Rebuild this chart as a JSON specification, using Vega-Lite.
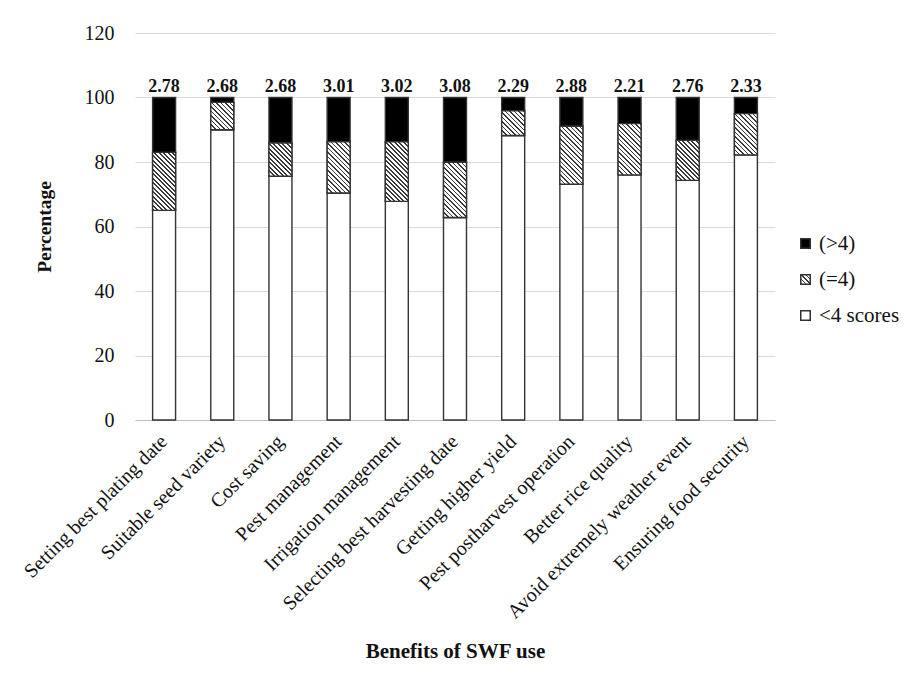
{
  "$schema": "https://vega.github.io/schema/vega-lite/v6.json",
  "autosize": {"type": "none"},
  "padding": {"left": 135, "top": 33, "right": 130, "bottom": 255},
  "width": 640,
  "height": 387,
  "background": "#ffffff",
  "config": {
    "view": {"stroke": null},
    "font": "Liberation Serif",
    "text": {"font": "Liberation Serif"}
  },
  "params": [
    {
      "name": "hatch",
      "value": [
        {"offset": 0, "color": "#3a3a3a"}, {"offset": 0.018, "color": "#3a3a3a"}, {"offset": 0.018, "color": "#ffffff"}, {"offset": 0.045, "color": "#ffffff"},
        {"offset": 0.045, "color": "#3a3a3a"}, {"offset": 0.063, "color": "#3a3a3a"}, {"offset": 0.063, "color": "#ffffff"}, {"offset": 0.09, "color": "#ffffff"},
        {"offset": 0.09, "color": "#3a3a3a"}, {"offset": 0.108, "color": "#3a3a3a"}, {"offset": 0.108, "color": "#ffffff"}, {"offset": 0.135, "color": "#ffffff"},
        {"offset": 0.135, "color": "#3a3a3a"}, {"offset": 0.153, "color": "#3a3a3a"}, {"offset": 0.153, "color": "#ffffff"}, {"offset": 0.18, "color": "#ffffff"},
        {"offset": 0.18, "color": "#3a3a3a"}, {"offset": 0.198, "color": "#3a3a3a"}, {"offset": 0.198, "color": "#ffffff"}, {"offset": 0.225, "color": "#ffffff"},
        {"offset": 0.225, "color": "#3a3a3a"}, {"offset": 0.243, "color": "#3a3a3a"}, {"offset": 0.243, "color": "#ffffff"}, {"offset": 0.27, "color": "#ffffff"},
        {"offset": 0.27, "color": "#3a3a3a"}, {"offset": 0.288, "color": "#3a3a3a"}, {"offset": 0.288, "color": "#ffffff"}, {"offset": 0.315, "color": "#ffffff"},
        {"offset": 0.315, "color": "#3a3a3a"}, {"offset": 0.333, "color": "#3a3a3a"}, {"offset": 0.333, "color": "#ffffff"}, {"offset": 0.36, "color": "#ffffff"},
        {"offset": 0.36, "color": "#3a3a3a"}, {"offset": 0.378, "color": "#3a3a3a"}, {"offset": 0.378, "color": "#ffffff"}, {"offset": 0.405, "color": "#ffffff"},
        {"offset": 0.405, "color": "#3a3a3a"}, {"offset": 0.423, "color": "#3a3a3a"}, {"offset": 0.423, "color": "#ffffff"}, {"offset": 0.45, "color": "#ffffff"},
        {"offset": 0.45, "color": "#3a3a3a"}, {"offset": 0.468, "color": "#3a3a3a"}, {"offset": 0.468, "color": "#ffffff"}, {"offset": 0.495, "color": "#ffffff"},
        {"offset": 0.495, "color": "#3a3a3a"}, {"offset": 0.513, "color": "#3a3a3a"}, {"offset": 0.513, "color": "#ffffff"}, {"offset": 0.54, "color": "#ffffff"},
        {"offset": 0.54, "color": "#3a3a3a"}, {"offset": 0.558, "color": "#3a3a3a"}, {"offset": 0.558, "color": "#ffffff"}, {"offset": 0.585, "color": "#ffffff"},
        {"offset": 0.585, "color": "#3a3a3a"}, {"offset": 0.603, "color": "#3a3a3a"}, {"offset": 0.603, "color": "#ffffff"}, {"offset": 0.63, "color": "#ffffff"},
        {"offset": 0.63, "color": "#3a3a3a"}, {"offset": 0.648, "color": "#3a3a3a"}, {"offset": 0.648, "color": "#ffffff"}, {"offset": 0.675, "color": "#ffffff"},
        {"offset": 0.675, "color": "#3a3a3a"}, {"offset": 0.693, "color": "#3a3a3a"}, {"offset": 0.693, "color": "#ffffff"}, {"offset": 0.72, "color": "#ffffff"},
        {"offset": 0.72, "color": "#3a3a3a"}, {"offset": 0.738, "color": "#3a3a3a"}, {"offset": 0.738, "color": "#ffffff"}, {"offset": 0.765, "color": "#ffffff"},
        {"offset": 0.765, "color": "#3a3a3a"}, {"offset": 0.783, "color": "#3a3a3a"}, {"offset": 0.783, "color": "#ffffff"}, {"offset": 0.81, "color": "#ffffff"},
        {"offset": 0.81, "color": "#3a3a3a"}, {"offset": 0.828, "color": "#3a3a3a"}, {"offset": 0.828, "color": "#ffffff"}, {"offset": 0.855, "color": "#ffffff"},
        {"offset": 0.855, "color": "#3a3a3a"}, {"offset": 0.873, "color": "#3a3a3a"}, {"offset": 0.873, "color": "#ffffff"}, {"offset": 0.9, "color": "#ffffff"},
        {"offset": 0.9, "color": "#3a3a3a"}, {"offset": 0.918, "color": "#3a3a3a"}, {"offset": 0.918, "color": "#ffffff"}, {"offset": 0.945, "color": "#ffffff"},
        {"offset": 0.945, "color": "#3a3a3a"}, {"offset": 0.963, "color": "#3a3a3a"}, {"offset": 0.963, "color": "#ffffff"}, {"offset": 1, "color": "#ffffff"}
      ]
    }
  ],
  "datasets": {
    "shares": [
      {"benefit": "Setting best plating date", "level": "<4 scores", "order": 1, "pct": 65.0},
      {"benefit": "Setting best plating date", "level": "(=4)", "order": 2, "pct": 18.0},
      {"benefit": "Setting best plating date", "level": "(>4)", "order": 3, "pct": 17.0},
      {"benefit": "Suitable seed variety", "level": "<4 scores", "order": 1, "pct": 90.0},
      {"benefit": "Suitable seed variety", "level": "(=4)", "order": 2, "pct": 8.5},
      {"benefit": "Suitable seed variety", "level": "(>4)", "order": 3, "pct": 1.5},
      {"benefit": "Cost saving", "level": "<4 scores", "order": 1, "pct": 75.6},
      {"benefit": "Cost saving", "level": "(=4)", "order": 2, "pct": 10.3},
      {"benefit": "Cost saving", "level": "(>4)", "order": 3, "pct": 14.1},
      {"benefit": "Pest management", "level": "<4 scores", "order": 1, "pct": 70.4},
      {"benefit": "Pest management", "level": "(=4)", "order": 2, "pct": 15.9},
      {"benefit": "Pest management", "level": "(>4)", "order": 3, "pct": 13.7},
      {"benefit": "Irrigation management", "level": "<4 scores", "order": 1, "pct": 67.8},
      {"benefit": "Irrigation management", "level": "(=4)", "order": 2, "pct": 18.5},
      {"benefit": "Irrigation management", "level": "(>4)", "order": 3, "pct": 13.7},
      {"benefit": "Selecting best harvesting date", "level": "<4 scores", "order": 1, "pct": 62.8},
      {"benefit": "Selecting best harvesting date", "level": "(=4)", "order": 2, "pct": 17.1},
      {"benefit": "Selecting best harvesting date", "level": "(>4)", "order": 3, "pct": 20.1},
      {"benefit": "Getting higher yield", "level": "<4 scores", "order": 1, "pct": 88.2},
      {"benefit": "Getting higher yield", "level": "(=4)", "order": 2, "pct": 7.7},
      {"benefit": "Getting higher yield", "level": "(>4)", "order": 3, "pct": 4.1},
      {"benefit": "Pest postharvest operation", "level": "<4 scores", "order": 1, "pct": 73.1},
      {"benefit": "Pest postharvest operation", "level": "(=4)", "order": 2, "pct": 18.0},
      {"benefit": "Pest postharvest operation", "level": "(>4)", "order": 3, "pct": 8.9},
      {"benefit": "Better rice quality", "level": "<4 scores", "order": 1, "pct": 76.0},
      {"benefit": "Better rice quality", "level": "(=4)", "order": 2, "pct": 15.9},
      {"benefit": "Better rice quality", "level": "(>4)", "order": 3, "pct": 8.1},
      {"benefit": "Avoid extremely weather event", "level": "<4 scores", "order": 1, "pct": 74.3},
      {"benefit": "Avoid extremely weather event", "level": "(=4)", "order": 2, "pct": 12.4},
      {"benefit": "Avoid extremely weather event", "level": "(>4)", "order": 3, "pct": 13.3},
      {"benefit": "Ensuring food security", "level": "<4 scores", "order": 1, "pct": 82.2},
      {"benefit": "Ensuring food security", "level": "(=4)", "order": 2, "pct": 12.8},
      {"benefit": "Ensuring food security", "level": "(>4)", "order": 3, "pct": 5.0}
    ],
    "means": [
      {"benefit": "Setting best plating date", "mean": 2.78},
      {"benefit": "Suitable seed variety", "mean": 2.68},
      {"benefit": "Cost saving", "mean": 2.68},
      {"benefit": "Pest management", "mean": 3.01},
      {"benefit": "Irrigation management", "mean": 3.02},
      {"benefit": "Selecting best harvesting date", "mean": 3.08},
      {"benefit": "Getting higher yield", "mean": 2.29},
      {"benefit": "Pest postharvest operation", "mean": 2.88},
      {"benefit": "Better rice quality", "mean": 2.21},
      {"benefit": "Avoid extremely weather event", "mean": 2.76},
      {"benefit": "Ensuring food security", "mean": 2.33}
    ]
  },
  "data": {"name": "shares"},
  "encoding": {
    "x": {
      "field": "benefit",
      "type": "nominal",
      "sort": null,
      "scale": {"paddingInner": 0.605, "paddingOuter": 0.3025},
      "axis": {
        "title": "Benefits of SWF  use",
        "labelAngle": -45,
        "labelFontSize": 20,
        "labelColor": "#111111",
        "labelLimit": 0,
        "labelPadding": 11,
        "labelOffset": -7,
        "ticks": false,
        "domainColor": "#bfbfbf",
        "domainWidth": 1.2,
        "titleFontSize": 21,
        "titleFontWeight": "bold",
        "titleColor": "#111111",
        "titlePadding": 20
      }
    }
  },
  "layer": [
    {
      "transform": [
        {"stack": "pct", "groupby": ["benefit"], "sort": [{"field": "order"}], "as": ["lo", "hi"]}
      ],
      "mark": {"type": "bar", "stroke": "#333333", "strokeWidth": 1.4},
      "encoding": {
        "y": {
          "field": "lo",
          "type": "quantitative",
          "title": "Percentage",
          "scale": {"domain": [0, 120], "nice": false},
          "axis": {
            "values": [0, 20, 40, 60, 80, 100, 120],
            "labelFontSize": 20,
            "labelColor": "#111111",
            "labelPadding": 21,
            "ticks": false,
            "domain": false,
            "gridColor": "#d9d9d9",
            "gridWidth": 1.2,
            "titleFontSize": 19.5,
            "titleFontWeight": "bold",
            "titleColor": "#111111",
            "titlePadding": 30
          }
        },
        "y2": {"field": "hi"},
        "fill": {
          "field": "level",
          "type": "nominal",
          "scale": {
            "domain": ["(>4)", "(=4)", "<4 scores"],
            "range": [
              "#000000",
              {"expr": "{gradient: 'linear', x1: 0, y1: 1, x2: 5.3, y2: -4.3, stops: hatch}"},
              "#ffffff"
            ]
          },
          "legend": {
            "title": null,
            "orient": "none",
            "legendX": 660,
            "legendY": 200,
            "symbolType": "square",
            "symbolSize": 90,
            "labelFontSize": 21,
            "labelColor": "#111111",
            "labelOffset": 3,
            "rowPadding": 14,
            "encode": {
              "symbols": {
                "update": {
                  "stroke": {"value": "#333333"},
                  "strokeWidth": {"value": 1}
                }
              }
            }
          }
        }
      }
    },
    {
      "transform": [
        {"stack": "pct", "groupby": ["benefit"], "sort": [{"field": "order"}], "as": ["lo", "hi"]},
        {"filter": "datum.level === '(=4)'"}
      ],
      "mark": {
        "type": "bar",
        "stroke": "#333333",
        "strokeWidth": 1.4,
        "fill": {"expr": "{gradient: 'linear', x1: 0, y1: 1, x2: 100 * bandwidth('x') / (pow(bandwidth('x'), 2) + pow(scale('y', datum.lo) - scale('y', datum.hi), 2)), y2: 1 - 100 * (scale('y', datum.lo) - scale('y', datum.hi)) / (pow(bandwidth('x'), 2) + pow(scale('y', datum.lo) - scale('y', datum.hi), 2)), stops: hatch}"}
      },
      "encoding": {
        "y": {"field": "lo", "type": "quantitative", "title": "Percentage"},
        "y2": {"field": "hi"}
      }
    },
    {
      "data": {"name": "means"},
      "mark": {"type": "text", "fontSize": 18, "fontWeight": "bold", "color": "#111111", "baseline": "alphabetic", "dy": -6},
      "encoding": {
        "y": {"datum": 100, "type": "quantitative", "title": "Percentage"},
        "text": {"field": "mean", "type": "quantitative", "format": ".2f"}
      }
    }
  ]
}
